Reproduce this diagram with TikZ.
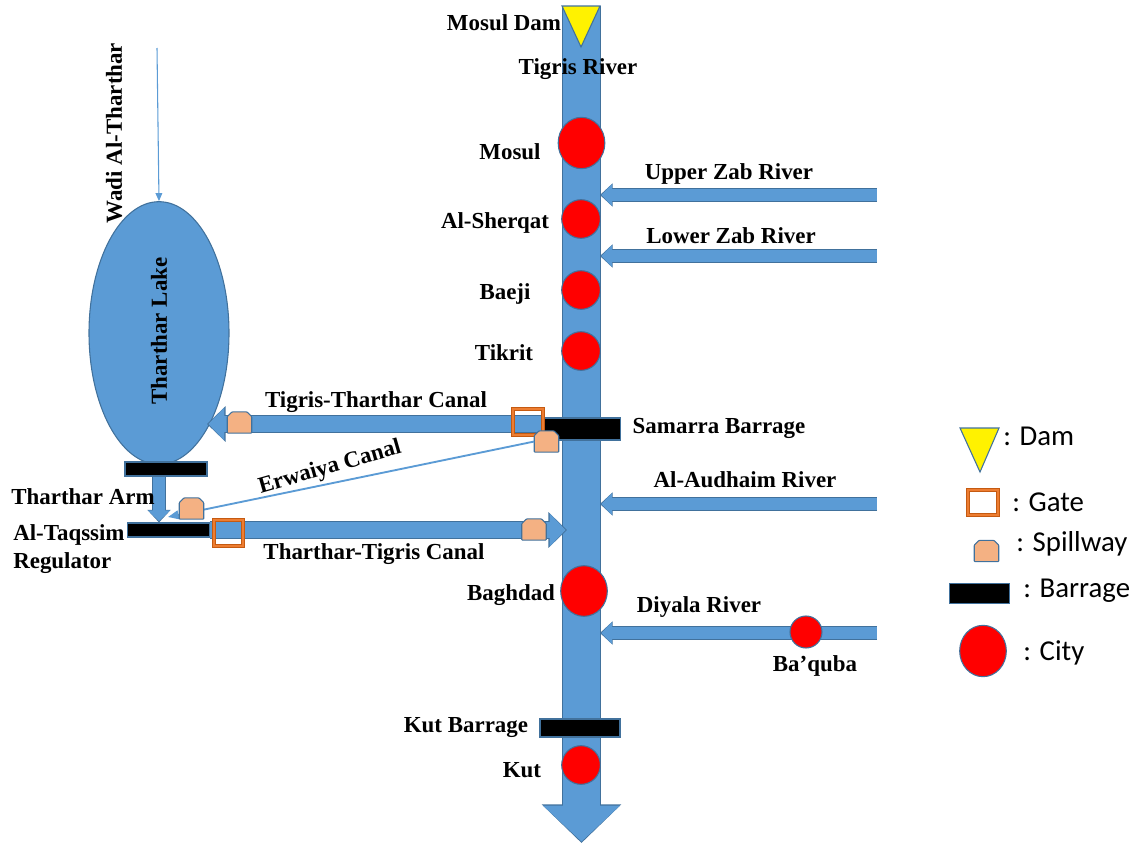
\documentclass[tikz,border=0pt]{standalone}
\usepackage{fontspec}
\setmainfont{Liberation Serif}
\newfontfamily\legendfont{Carlito}
\usetikzlibrary{arrows.meta,shapes.geometric}
\definecolor{riverblue}{HTML}{5B9BD5}
\definecolor{riveredge}{HTML}{41719C}
\definecolor{gateline}{HTML}{C55A11}
\definecolor{gatefill}{HTML}{ED7D31}
\definecolor{spillfill}{HTML}{F4B183}
\begin{document}
\begin{tikzpicture}[
  x=0.75pt, y=-0.75pt,
  lbl/.style={font=\bfseries\fontsize{17.2}{21.5}\selectfont, inner sep=0pt, align=left},
  key/.style={font=\legendfont\fontsize{21.6}{26}\selectfont, inner sep=0pt, anchor=west},
  city/.style={ellipse, draw=riveredge, line width=0.8pt, fill=red, inner sep=0pt},
  barrage/.style={rectangle, draw=riveredge, line width=0.8pt, fill=black, inner sep=0pt},
  gate/.style={rectangle, draw=gateline, line width=0.7pt, double=gatefill, double distance=1.5pt, inner sep=0pt, minimum width=22pt, minimum height=19pt},
  spill/.style={rectangle, inner sep=0pt, minimum width=18pt, minimum height=15.5pt,
    append after command={\pgfextra{\begin{pgfinterruptpath}
      \draw[draw=riveredge, line width=0.8pt, fill=spillfill, rounded corners=0.6pt]
        (\tikzlastnode.south west) -- (\tikzlastnode.south east)
        -- ([yshift=-3.5pt]\tikzlastnode.north east) -- ([xshift=-3.5pt]\tikzlastnode.north east)
        -- ([xshift=3.5pt]\tikzlastnode.north west) -- ([yshift=-3.5pt]\tikzlastnode.north west) -- cycle;
    \end{pgfinterruptpath}}}},
  dam/.style={draw=riveredge, line width=0.8pt, fill=yellow},
  mainriver/.style={draw=riverblue, line width=28.2pt, shorten >=1pt, -{Triangle[length=27pt,width=56pt]},
    preaction={draw=riveredge, line width=29.4pt, shorten >=0pt, -{Triangle[length=29pt,width=58pt]}}},
  canal/.style={draw=riverblue, line width=12.4pt, shorten >=1pt, -{Triangle[length=12pt,width=24pt]},
    preaction={draw=riveredge, line width=13.6pt, shorten >=0pt, -{Triangle[length=14pt,width=26pt]}}},
  branch/.style={draw=riverblue, line width=8.6pt, shorten >=1pt, -{Triangle[length=8pt,width=16pt]},
    preaction={draw=riveredge, line width=9.8pt, shorten >=0pt, -{Triangle[length=9.5pt,width=17pt]}}},
  thin/.style={draw=riverblue, line width=1.4pt, -{Triangle[length=8pt,width=6.5pt]}}
]
  \useasboundingbox (0,0) rectangle (1139,843);

  %% Free ends of the rivers
  \coordinate (tigristop) at (581.5,6);
  \coordinate (tigrisend) at (581.5,843);
  \coordinate (upperstart) at (877,195);
  \coordinate (upperend) at (600,195);
  \coordinate (lowerstart) at (877,256);
  \coordinate (lowerend) at (600,256);
  \coordinate (audhaimstart) at (877,504);
  \coordinate (audhaimend) at (600,504);
  \coordinate (diyalastart) at (877,633);
  \coordinate (diyalaend) at (600,633);
  \coordinate (canalin) at (207,424);
  \coordinate (canalout) at (567,530);
  \coordinate (wadistart) at (157,48);
  \coordinate (erwaiyaend) at (168,517);

  %% Tigris and its branches
  \draw[mainriver] (tigristop) -- (tigrisend);
  \draw[branch] (upperstart) -- (upperend);
  \draw[branch] (lowerstart) -- (lowerend);
  \draw[branch] (audhaimstart) -- (audhaimend);
  \draw[branch] (diyalastart) -- (diyalaend);

  %% Tharthar Lake
  \node[ellipse, draw=riveredge, line width=0.8pt, fill=riverblue, inner sep=0pt, minimum width=105pt, minimum height=197pt] (lake) at (159,333) {};
  \node[lbl, rotate=90] (lakelbl) at (159,331) {Tharthar Lake};
  \draw[riverblue, line width=0.8pt, -{Triangle[length=6pt,width=5pt]}] (wadistart) -- (lake.north);

  %% Barrages
  \node[barrage, minimum width=58pt, minimum height=16.5pt] (samarra) at (581.5,429) {};
  \node[barrage, minimum width=61.5pt, minimum height=10.5pt] (lakebar) at (166,469) {};
  \node[barrage, minimum width=61pt, minimum height=10.5pt] (regulator) at (168.5,530) {};
  \node[barrage, minimum width=60pt, minimum height=13.5pt] (kutbar) at (580,728) {};

  %% Canals
  \draw[canal] (samarra.west |- canalin) -- (canalin);
  \draw[canal] (regulator.east) -- (canalout);
  \draw[branch] (lakebar.south -| lake.center) -- (regulator.north -| lake.center);

  %% Gates and spillways
  \node[gate] (gateone) at (528,422) {};
  \node[gate] (gatetwo) at (228.5,533) {};
  \node[spill] (spillone) at (546.5,441.5) {};
  \draw[thin] (spillone.west) -- (erwaiyaend);
  \node[spill] (spilltwo) at (534,529.5) {};
  \node[spill] (spillthree) at (239.5,422.5) {};
  \node[spill] (spillfour) at (191.5,508.5) {};

  %% Cities
  \node[city, minimum width=35pt, minimum height=38.5pt] (mosul) at (581.5,143) {};
  \node[city, minimum width=29pt, minimum height=29pt] (sherqat) at (581,219) {};
  \node[city, minimum width=29pt, minimum height=29pt] (baeji) at (581,290) {};
  \node[city, minimum width=29pt, minimum height=29pt] (tikrit) at (581,351) {};
  \node[city, minimum width=35pt, minimum height=38pt] (baghdad) at (584,591) {};
  \node[city, minimum width=24pt, minimum height=24pt] (baquba) at (806,632) {};
  \node[city, minimum width=29pt, minimum height=29pt] (kut) at (581,765) {};
  \path[dam] (562,6) -- (600,6) -- (581,47) -- cycle;

  %% River and place labels
  \node[lbl] (mosuldamlbl) at (504,23) {Mosul Dam};
  \node[lbl] (tigrislbl) at (578,69) {Tigris River};
  \node[lbl] (mosullbl) at (510,152) {Mosul};
  \node[lbl] (upperlbl) at (729,174) {Upper Zab River};
  \node[lbl] (sherqatlbl) at (495,223) {Al-Sherqat};
  \node[lbl] (lowerlbl) at (731,236) {Lower Zab River};
  \node[lbl] (baejilbl) at (505,294) {Baeji};
  \node[lbl] (tikritlbl) at (504,353) {Tikrit};
  \node[lbl] (canalinlbl) at (376,402) {Tigris-Tharthar Canal};
  \node[lbl] (samarralbl) at (719,428) {Samarra Barrage};
  \node[lbl] (audhaimlbl) at (745,480) {Al-Audhaim River};
  \node[lbl, rotate=16] (erwaiyalbl) at (330,468) {Erwaiya Canal};
  \node[lbl] (armlbl) at (83,497) {Tharthar Arm};
  \node[lbl, anchor=north west] (regulatorlbl) at (13,524) {Al-Taqssim\\Regulator};
  \node[lbl] (canaloutlbl) at (374,554) {Tharthar-Tigris Canal};
  \node[lbl] (baghdadlbl) at (511,595) {Baghdad};
  \node[lbl] (diyalalbl) at (699,607) {Diyala River};
  \node[lbl] (baqubalbl) at (815,666) {Ba’quba};
  \node[lbl] (kutbarlbl) at (466,728) {Kut Barrage};
  \node[lbl] (kutlbl) at (522,770) {Kut};
  \node[lbl, rotate=90] (wadilbl) at (114,133) {Wadi Al-Tharthar};

  %% Legend
  \path[dam] (960,428) -- (999,428) -- (980,472) -- cycle;
  \node[key] (damkey) at (1003,436) {: Dam};
  \node[gate] (gatesym) at (983,502.5) {};
  \node[key] (gatekey) at (1012,502) {: Gate};
  \node[spill] (spillsym) at (986.5,551) {};
  \node[key] (spillkey) at (1016,544) {: Spillway};
  \node[barrage, minimum width=45.5pt, minimum height=15.5pt] (barsym) at (979.5,593.5) {};
  \node[key] (barkey) at (1023,591) {: Barrage};
  \node[city, minimum width=35pt, minimum height=38.5pt] (citysym) at (983,651) {};
  \node[key] (citykey) at (1023,653) {: City};
\end{tikzpicture}
\end{document}
